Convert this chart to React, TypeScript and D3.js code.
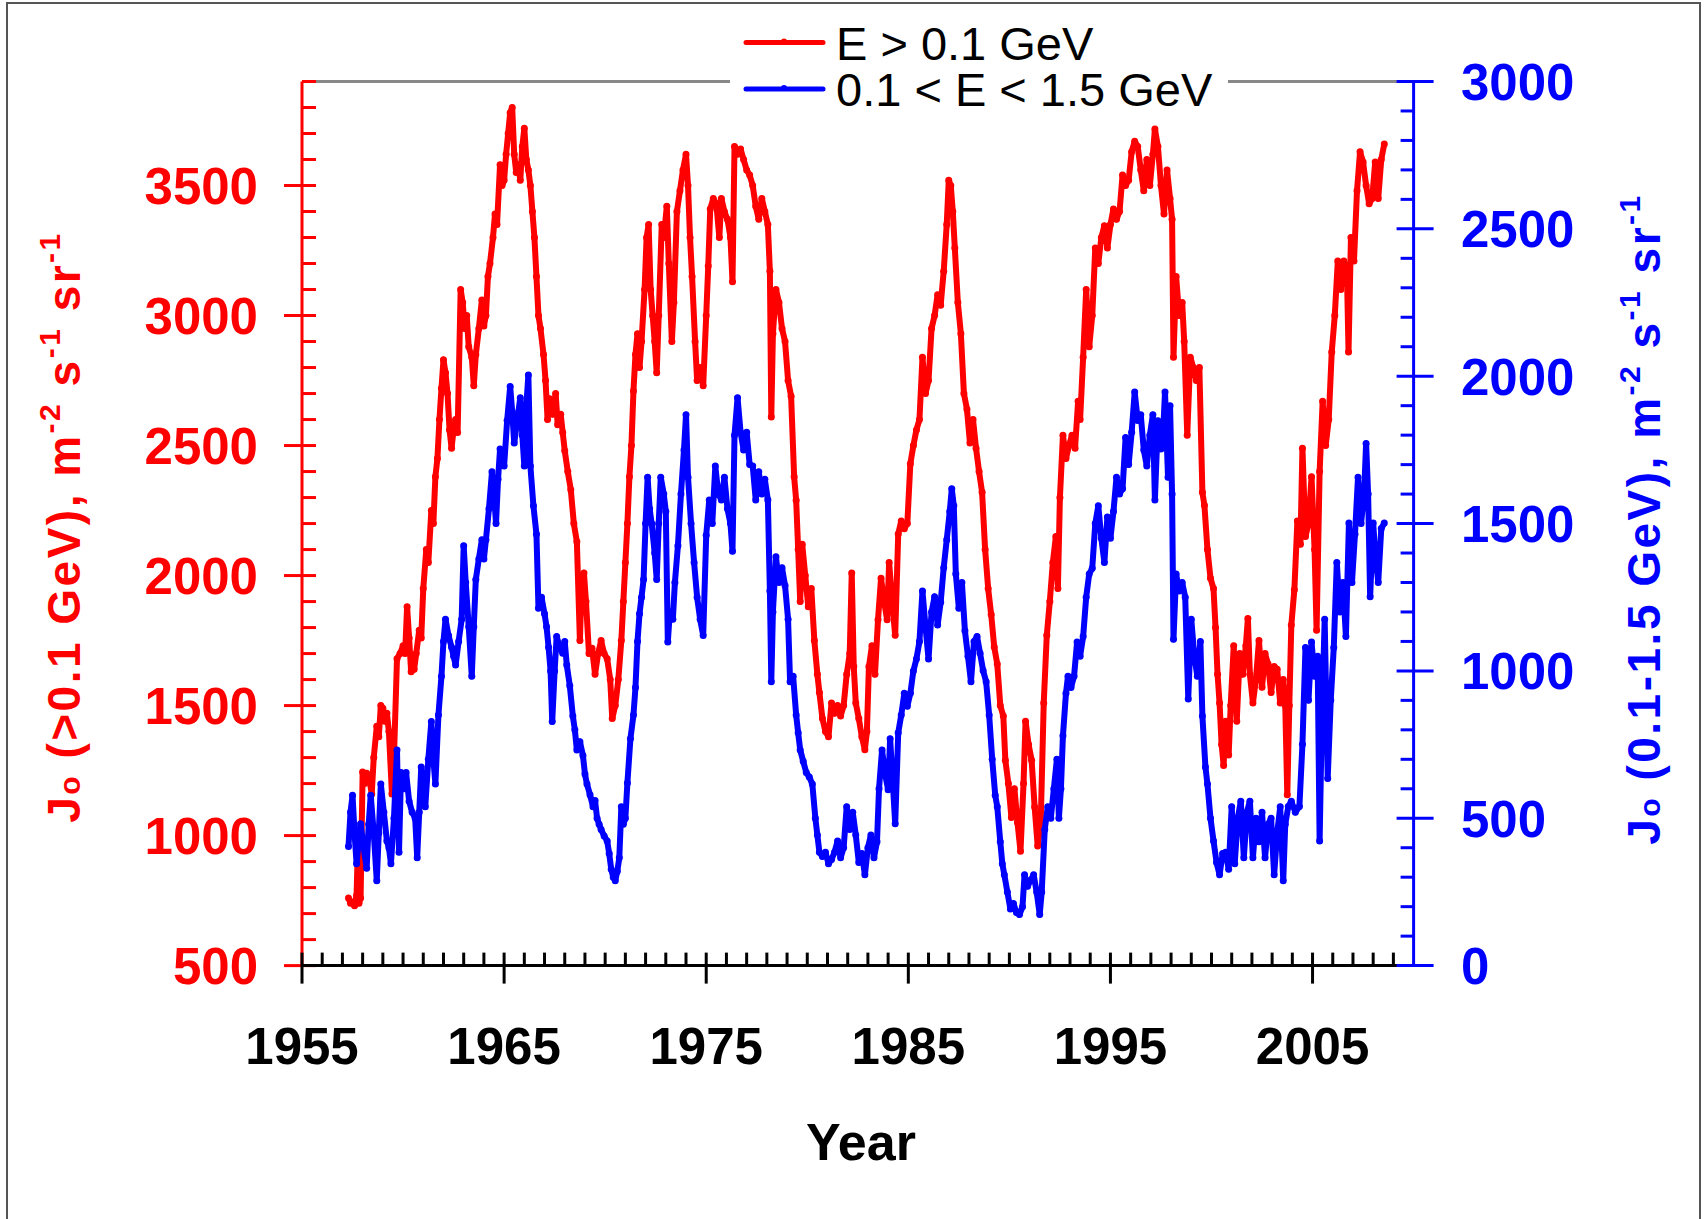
import React from "react";
import * as d3 from "d3";

// E > 0.1 GeV (left axis), [year, flux]
const highEnergy: [number, number][] = [
  [1957.3, 760], [1957.4, 740], [1957.5, 745], [1957.6, 730], [1957.7, 770], [1957.78, 1000], [1957.82, 740], [1957.9, 760],
  [1958.0, 1245], [1958.1, 1200], [1958.2, 1240], [1958.35, 1210], [1958.45, 1160], [1958.55, 1300], [1958.7, 1420], [1958.8, 1380],
  [1958.9, 1500], [1959.0, 1490], [1959.1, 1440], [1959.2, 1470], [1959.3, 1400], [1959.45, 1160], [1959.55, 1300], [1959.7, 1680],
  [1959.85, 1700], [1960.0, 1730], [1960.1, 1700], [1960.2, 1880], [1960.3, 1760], [1960.4, 1630], [1960.55, 1640], [1960.65, 1700],
  [1960.8, 1790], [1960.9, 1760], [1961.0, 1950], [1961.15, 2100], [1961.25, 2050], [1961.4, 2250], [1961.5, 2200], [1961.6, 2380],
  [1961.7, 2450], [1961.8, 2600], [1961.9, 2720], [1962.0, 2830], [1962.1, 2780], [1962.2, 2700], [1962.3, 2560], [1962.4, 2490],
  [1962.5, 2560], [1962.6, 2600], [1962.7, 2550], [1962.85, 3100], [1962.95, 3050], [1963.05, 2950], [1963.15, 3000], [1963.25, 2880],
  [1963.4, 2840], [1963.5, 2730], [1963.6, 2850], [1963.75, 2950], [1963.9, 3060], [1964.0, 2960], [1964.1, 3000], [1964.2, 3150],
  [1964.3, 3200], [1964.45, 3300], [1964.55, 3390], [1964.65, 3350], [1964.8, 3580], [1964.9, 3500], [1965.0, 3520], [1965.1, 3620],
  [1965.2, 3700], [1965.3, 3780], [1965.4, 3800], [1965.5, 3620], [1965.6, 3550], [1965.7, 3580], [1965.8, 3520], [1965.9, 3650],
  [1966.0, 3720], [1966.1, 3600], [1966.2, 3560], [1966.3, 3500], [1966.4, 3400], [1966.5, 3300], [1966.6, 3150], [1966.7, 3000],
  [1966.8, 2950], [1966.95, 2850], [1967.05, 2750], [1967.15, 2600], [1967.25, 2680], [1967.4, 2620], [1967.55, 2700], [1967.65, 2580],
  [1967.8, 2620], [1967.9, 2550], [1968.0, 2480], [1968.15, 2400], [1968.3, 2330], [1968.45, 2200], [1968.6, 2130], [1968.75, 1750],
  [1968.85, 2000], [1968.95, 2010], [1969.05, 1900], [1969.2, 1700], [1969.35, 1720], [1969.5, 1620], [1969.65, 1700], [1969.8, 1750],
  [1969.95, 1700], [1970.1, 1680], [1970.25, 1600], [1970.35, 1450], [1970.5, 1500], [1970.65, 1600], [1970.8, 1750], [1970.9, 1900],
  [1971.0, 2050], [1971.1, 2200], [1971.2, 2380], [1971.3, 2500], [1971.4, 2710], [1971.5, 2850], [1971.6, 2930], [1971.7, 2800],
  [1971.8, 2900], [1971.95, 3100], [1972.05, 3300], [1972.15, 3350], [1972.25, 3100], [1972.35, 3000], [1972.45, 2900], [1972.55, 2780],
  [1972.65, 3000], [1972.8, 3350], [1972.9, 3300], [1973.05, 3420], [1973.15, 3200], [1973.3, 2900], [1973.4, 3050], [1973.55, 3400],
  [1973.7, 3480], [1973.85, 3560], [1974.0, 3620], [1974.1, 3500], [1974.2, 3300], [1974.3, 3150], [1974.45, 2900], [1974.55, 2750],
  [1974.7, 2800], [1974.85, 2730], [1975.0, 3000], [1975.1, 3190], [1975.2, 3410], [1975.35, 3450], [1975.5, 3430], [1975.65, 3300],
  [1975.75, 3450], [1975.9, 3400], [1976.05, 3370], [1976.2, 3300], [1976.3, 3130], [1976.4, 3650], [1976.55, 3620], [1976.7, 3640],
  [1976.85, 3600], [1977.0, 3560], [1977.15, 3540], [1977.3, 3500], [1977.45, 3420], [1977.6, 3370], [1977.75, 3450], [1977.9, 3400],
  [1978.05, 3350], [1978.15, 3170], [1978.22, 2610], [1978.3, 2930], [1978.45, 3100], [1978.6, 3050], [1978.75, 2950], [1978.9, 2900],
  [1979.05, 2750], [1979.2, 2690], [1979.35, 2380], [1979.45, 2290], [1979.55, 2100], [1979.65, 1900], [1979.75, 2120], [1979.9, 2000],
  [1980.05, 1880], [1980.2, 1950], [1980.35, 1750], [1980.5, 1620], [1980.6, 1550], [1980.75, 1450], [1980.9, 1400], [1981.05, 1380],
  [1981.2, 1510], [1981.35, 1470], [1981.5, 1500], [1981.65, 1460], [1981.8, 1500], [1981.95, 1620], [1982.1, 1700], [1982.2, 2010],
  [1982.3, 1650], [1982.4, 1510], [1982.55, 1450], [1982.7, 1380], [1982.85, 1330], [1982.95, 1400], [1983.05, 1650], [1983.2, 1730],
  [1983.35, 1620], [1983.5, 1830], [1983.65, 1990], [1983.8, 1900], [1983.95, 1830], [1984.05, 2050], [1984.2, 1900], [1984.35, 1770],
  [1984.5, 2160], [1984.65, 2210], [1984.8, 2180], [1984.95, 2200], [1985.1, 2430], [1985.25, 2500], [1985.4, 2560], [1985.55, 2600],
  [1985.7, 2840], [1985.85, 2700], [1986.0, 2750], [1986.15, 2950], [1986.3, 3000], [1986.45, 3080], [1986.6, 3040], [1986.75, 3170],
  [1986.9, 3350], [1987.0, 3520], [1987.1, 3500], [1987.2, 3400], [1987.3, 3260], [1987.45, 3050], [1987.6, 2930], [1987.75, 2700],
  [1987.9, 2640], [1988.05, 2510], [1988.2, 2600], [1988.35, 2490], [1988.5, 2400], [1988.65, 2320], [1988.8, 2100], [1988.95, 1950],
  [1989.1, 1850], [1989.25, 1725], [1989.4, 1660], [1989.55, 1500], [1989.7, 1460], [1989.8, 1290], [1989.95, 1200], [1990.1, 1070],
  [1990.25, 1180], [1990.4, 1050], [1990.55, 940], [1990.7, 1200], [1990.8, 1440], [1990.95, 1350], [1991.1, 1290], [1991.25, 1110],
  [1991.4, 960], [1991.55, 1050], [1991.7, 1510], [1991.85, 1770], [1992.0, 1900], [1992.15, 2050], [1992.3, 2150], [1992.4, 1950],
  [1992.5, 2300], [1992.65, 2540], [1992.8, 2450], [1992.95, 2500], [1993.1, 2540], [1993.25, 2490], [1993.4, 2670], [1993.5, 2600],
  [1993.65, 2840], [1993.8, 3100], [1993.95, 2880], [1994.1, 3000], [1994.25, 3260], [1994.4, 3200], [1994.55, 3300], [1994.7, 3345],
  [1994.85, 3260], [1995.0, 3350], [1995.15, 3410], [1995.3, 3370], [1995.45, 3400], [1995.6, 3540], [1995.75, 3500], [1995.9, 3520],
  [1996.05, 3630], [1996.2, 3670], [1996.35, 3650], [1996.5, 3560], [1996.65, 3480], [1996.8, 3600], [1996.95, 3500], [1997.1, 3620],
  [1997.2, 3717], [1997.35, 3650], [1997.5, 3500], [1997.65, 3390], [1997.8, 3560], [1997.95, 3450], [1998.05, 3370], [1998.12, 2840],
  [1998.25, 3150], [1998.4, 3000], [1998.55, 3050], [1998.65, 2900], [1998.8, 2540], [1998.95, 2840], [1999.1, 2800], [1999.25, 2750],
  [1999.4, 2800], [1999.55, 2320], [1999.65, 2270], [1999.8, 2100], [1999.95, 1990], [2000.1, 1950], [2000.2, 1800], [2000.3, 1620],
  [2000.4, 1510], [2000.5, 1350], [2000.6, 1270], [2000.7, 1440], [2000.85, 1310], [2000.95, 1500], [2001.1, 1730], [2001.25, 1440],
  [2001.4, 1700], [2001.55, 1620], [2001.7, 1730], [2001.8, 1835], [2001.9, 1620], [2002.05, 1510], [2002.2, 1600], [2002.35, 1750],
  [2002.5, 1570], [2002.65, 1700], [2002.8, 1660], [2002.95, 1550], [2003.1, 1650], [2003.25, 1640], [2003.4, 1510], [2003.55, 1600],
  [2003.65, 1500], [2003.75, 1157], [2003.85, 1500], [2003.95, 1810], [2004.1, 1945], [2004.25, 2210], [2004.4, 2120], [2004.5, 2490],
  [2004.65, 2150], [2004.8, 2200], [2004.95, 2380], [2005.1, 2100], [2005.2, 1790], [2005.35, 2400], [2005.5, 2670], [2005.65, 2500],
  [2005.8, 2600], [2005.95, 2860], [2006.1, 3000], [2006.25, 3210], [2006.4, 3100], [2006.55, 3210], [2006.7, 3170], [2006.78, 2860],
  [2006.9, 3300], [2007.05, 3210], [2007.2, 3480], [2007.35, 3630], [2007.5, 3590], [2007.65, 3500], [2007.8, 3430], [2007.95, 3450],
  [2008.1, 3590], [2008.25, 3450], [2008.4, 3600], [2008.55, 3660],
];

// 0.1 < E < 1.5 GeV (right axis), [year, flux]
const midEnergy: [number, number][] = [
  [1957.3, 404], [1957.4, 520], [1957.5, 578], [1957.6, 450], [1957.7, 346], [1957.8, 420], [1957.9, 481], [1958.05, 400],
  [1958.2, 330], [1958.3, 480], [1958.4, 578], [1958.55, 450], [1958.7, 288], [1958.8, 450], [1958.9, 616], [1959.05, 520],
  [1959.2, 423], [1959.3, 400], [1959.4, 346], [1959.55, 500], [1959.7, 732], [1959.8, 385], [1959.9, 655], [1960.05, 600],
  [1960.15, 655], [1960.3, 558], [1960.45, 520], [1960.6, 500], [1960.7, 366], [1960.8, 520], [1960.9, 674], [1961.0, 600],
  [1961.1, 539], [1961.25, 700], [1961.4, 828], [1961.5, 700], [1961.6, 616], [1961.75, 850], [1961.9, 982], [1962.0, 1100],
  [1962.1, 1175], [1962.25, 1120], [1962.4, 1080], [1962.5, 1050], [1962.6, 1020], [1962.75, 1100], [1962.9, 1175], [1963.0, 1425],
  [1963.1, 1300], [1963.25, 1150], [1963.4, 982], [1963.5, 1150], [1963.6, 1310], [1963.75, 1380], [1963.9, 1445], [1964.0, 1380],
  [1964.1, 1445], [1964.25, 1550], [1964.4, 1676], [1964.5, 1600], [1964.6, 1500], [1964.7, 1650], [1964.8, 1753], [1964.9, 1700],
  [1965.0, 1695], [1965.15, 1850], [1965.3, 1965], [1965.4, 1880], [1965.5, 1773], [1965.65, 1850], [1965.8, 1927], [1965.9, 1800],
  [1966.0, 1695], [1966.1, 1900], [1966.2, 2004], [1966.3, 1695], [1966.45, 1560], [1966.6, 1464], [1966.7, 1213], [1966.85, 1250],
  [1967.0, 1194], [1967.1, 1150], [1967.2, 1080], [1967.3, 1000], [1967.38, 828], [1967.5, 1000], [1967.6, 1117], [1967.75, 1080],
  [1967.9, 1060], [1968.0, 1100], [1968.1, 1020], [1968.25, 950], [1968.4, 847], [1968.5, 800], [1968.6, 732], [1968.75, 760],
  [1968.9, 713], [1969.0, 650], [1969.1, 616], [1969.25, 580], [1969.4, 539], [1969.5, 560], [1969.6, 500], [1969.7, 480],
  [1969.8, 462], [1969.95, 440], [1970.1, 423], [1970.2, 380], [1970.3, 327], [1970.4, 300], [1970.5, 288], [1970.6, 320],
  [1970.7, 366], [1970.8, 539], [1970.9, 480], [1971.0, 500], [1971.1, 620], [1971.25, 770], [1971.4, 850], [1971.5, 944],
  [1971.6, 1100], [1971.7, 1194], [1971.8, 1250], [1971.9, 1310], [1972.0, 1500], [1972.1, 1657], [1972.2, 1550], [1972.3, 1500],
  [1972.45, 1400], [1972.55, 1310], [1972.65, 1500], [1972.75, 1657], [1972.9, 1600], [1973.0, 1541], [1973.1, 1098], [1973.2, 1200],
  [1973.35, 1175], [1973.45, 1300], [1973.6, 1425], [1973.75, 1600], [1973.9, 1750], [1974.0, 1869], [1974.1, 1657], [1974.25, 1500],
  [1974.4, 1368], [1974.55, 1250], [1974.7, 1175], [1974.85, 1120], [1975.0, 1460], [1975.15, 1580], [1975.3, 1500], [1975.45, 1695],
  [1975.6, 1600], [1975.75, 1580], [1975.9, 1657], [1976.05, 1550], [1976.2, 1500], [1976.3, 1406], [1976.4, 1800], [1976.55, 1927],
  [1976.7, 1810], [1976.85, 1750], [1977.0, 1810], [1977.15, 1700], [1977.3, 1695], [1977.45, 1580], [1977.6, 1676], [1977.75, 1600],
  [1977.9, 1650], [1978.05, 1580], [1978.15, 1271], [1978.22, 963], [1978.3, 1200], [1978.45, 1387], [1978.6, 1300], [1978.75, 1350],
  [1978.9, 1290], [1979.05, 1175], [1979.15, 963], [1979.3, 982], [1979.45, 850], [1979.55, 790], [1979.65, 732], [1979.8, 693],
  [1979.95, 655], [1980.1, 640], [1980.25, 616], [1980.4, 500], [1980.5, 443], [1980.6, 385], [1980.75, 370], [1980.9, 385],
  [1981.05, 346], [1981.2, 360], [1981.35, 385], [1981.5, 423], [1981.65, 366], [1981.8, 400], [1981.95, 539], [1982.1, 462],
  [1982.25, 520], [1982.4, 443], [1982.55, 350], [1982.7, 380], [1982.85, 308], [1983.0, 400], [1983.15, 443], [1983.3, 366],
  [1983.45, 420], [1983.55, 600], [1983.7, 732], [1983.85, 650], [1984.0, 597], [1984.1, 770], [1984.25, 600], [1984.35, 481],
  [1984.5, 790], [1984.65, 850], [1984.8, 924], [1984.95, 880], [1985.1, 924], [1985.25, 1000], [1985.4, 1040], [1985.55, 1100],
  [1985.7, 1271], [1985.85, 1150], [1986.0, 1040], [1986.15, 1200], [1986.3, 1252], [1986.45, 1156], [1986.6, 1233], [1986.75, 1350],
  [1986.9, 1445], [1987.05, 1541], [1987.15, 1618], [1987.25, 1560], [1987.35, 1329], [1987.5, 1213], [1987.65, 1300], [1987.8, 1136],
  [1987.95, 1050], [1988.1, 963], [1988.25, 1100], [1988.4, 1117], [1988.55, 1060], [1988.7, 1001], [1988.85, 963], [1989.0, 850],
  [1989.15, 700], [1989.3, 578], [1989.4, 539], [1989.55, 420], [1989.65, 346], [1989.75, 308], [1989.9, 250], [1990.05, 192],
  [1990.2, 211], [1990.35, 180], [1990.5, 173], [1990.65, 200], [1990.75, 308], [1990.9, 269], [1991.05, 290], [1991.2, 308],
  [1991.35, 250], [1991.5, 173], [1991.6, 250], [1991.75, 462], [1991.9, 539], [1992.05, 500], [1992.2, 600], [1992.35, 700],
  [1992.45, 500], [1992.55, 600], [1992.65, 780], [1992.8, 924], [1992.9, 982], [1993.05, 944], [1993.2, 982], [1993.35, 1098],
  [1993.5, 1050], [1993.65, 1117], [1993.8, 1250], [1993.95, 1329], [1994.1, 1348], [1994.25, 1500], [1994.4, 1560], [1994.55, 1450],
  [1994.7, 1368], [1994.85, 1522], [1995.0, 1450], [1995.15, 1541], [1995.3, 1657], [1995.45, 1600], [1995.6, 1618], [1995.75, 1792],
  [1995.9, 1700], [1996.05, 1810], [1996.2, 1946], [1996.35, 1850], [1996.5, 1869], [1996.65, 1750], [1996.8, 1695], [1996.95, 1800],
  [1997.1, 1869], [1997.2, 1580], [1997.35, 1849], [1997.5, 1753], [1997.6, 1800], [1997.7, 1946], [1997.85, 1657], [1997.95, 1900],
  [1998.05, 1600], [1998.12, 1107], [1998.25, 1329], [1998.4, 1271], [1998.55, 1300], [1998.7, 1250], [1998.85, 905], [1999.0, 1175],
  [1999.15, 1050], [1999.3, 982], [1999.45, 1100], [1999.55, 847], [1999.7, 674], [1999.8, 616], [1999.95, 500], [2000.1, 423],
  [2000.25, 350], [2000.4, 308], [2000.55, 380], [2000.7, 385], [2000.85, 327], [2001.0, 539], [2001.15, 346], [2001.3, 500],
  [2001.45, 558], [2001.6, 366], [2001.75, 520], [2001.9, 558], [2002.05, 366], [2002.2, 500], [2002.35, 420], [2002.5, 520],
  [2002.65, 366], [2002.8, 480], [2002.95, 500], [2003.1, 308], [2003.25, 450], [2003.4, 539], [2003.55, 288], [2003.65, 480],
  [2003.8, 540], [2003.95, 558], [2004.15, 520], [2004.35, 540], [2004.5, 751], [2004.65, 1079], [2004.8, 900], [2004.95, 1098],
  [2005.1, 982], [2005.25, 1050], [2005.35, 423], [2005.45, 800], [2005.6, 1175], [2005.75, 635], [2005.9, 900], [2006.05, 1079],
  [2006.2, 1368], [2006.35, 1200], [2006.5, 1300], [2006.65, 1117], [2006.8, 1502], [2006.95, 1300], [2007.1, 1464], [2007.25, 1657],
  [2007.4, 1500], [2007.55, 1600], [2007.65, 1772], [2007.75, 1600], [2007.85, 1252], [2008.0, 1502], [2008.1, 1400], [2008.25, 1300],
  [2008.4, 1483], [2008.55, 1502],
];

const yearTicks = [1955, 1965, 1975, 1985, 1995, 2005];
const leftTicks = [500, 1000, 1500, 2000, 2500, 3000, 3500];
const rightTicks = [0, 500, 1000, 1500, 2000, 2500, 3000];
const legendLabels = ["E > 0.1 GeV", "0.1 < E < 1.5 GeV"];

const RED = "#ff0000";
const BLUE = "#0000ff";
const FONT = "'Liberation Sans', Arial, sans-serif";

export default function App() {
  const W = 1705;
  const H = 1219;
  const left = 302;
  const right = 1413.6;
  const top = 81.5;
  const bottom = 965.6;

  const x = d3.scaleLinear().domain([1955, 2010]).range([left, right]);
  const yL = d3.scaleLinear().domain([500, 3900]).range([bottom, top]);
  const yR = d3.scaleLinear().domain([0, 3000]).range([bottom, top]);

  const redLine = d3.line<[number, number]>().x((d) => x(d[0])).y((d) => yL(d[1]));
  const blueLine = d3.line<[number, number]>().x((d) => x(d[0])).y((d) => yR(d[1]));

  const leftMinor = d3.range(500, 3901, 100).filter((v) => v % 500 !== 0);
  const rightMinor = d3.range(0, 3001, 100).filter((v) => v % 500 !== 0);
  const yearMinor = d3.range(1956, 2010).filter((v) => (v - 1955) % 10 !== 0);

  const sup = 30;

  return (
    <svg width={W} height={H} style={{ position: "absolute", left: 0, top: 0, background: "#fff" }} fontFamily={FONT}>
      <rect x={7} y={3} width={1693} height={1240} fill="#fff" stroke="#555" strokeWidth={2} />

      {/* top frame line */}
      <line x1={left} x2={right} y1={top} y2={top} stroke="#888" strokeWidth={3} />

      {/* data */}
      <path d={redLine(highEnergy) || ""} fill="none" stroke={RED} strokeWidth={6} strokeLinejoin="round" />
      {highEnergy.map((d, i) => (
        <circle key={"r" + i} cx={x(d[0])} cy={yL(d[1])} r={3.5} fill={RED} />
      ))}
      <path d={blueLine(midEnergy) || ""} fill="none" stroke={BLUE} strokeWidth={6} strokeLinejoin="round" />
      {midEnergy.map((d, i) => (
        <circle key={"b" + i} cx={x(d[0])} cy={yR(d[1])} r={3.5} fill={BLUE} />
      ))}

      {/* left axis */}
      <g stroke={RED} strokeWidth={3}>
        <line x1={left} x2={left} y1={top} y2={bottom} />
        {leftMinor.map((v) => (
          <line key={v} x1={left} x2={left + 14} y1={yL(v)} y2={yL(v)} />
        ))}
        {leftTicks.map((v) => (
          <line key={v} x1={left - 18} x2={left + 14} y1={yL(v)} y2={yL(v)} />
        ))}
      </g>
      <g fill={RED} fontSize={51} fontWeight="bold" textAnchor="end">
        {leftTicks.map((v) => (
          <text key={v} x={258} y={yL(v)} dy="0.36em">{v}</text>
        ))}
      </g>

      {/* bottom axis */}
      <g stroke="#000" strokeWidth={3}>
        <line x1={left} x2={right} y1={bottom} y2={bottom} />
        {yearMinor.map((v) => (
          <line key={v} x1={x(v)} x2={x(v)} y1={bottom - 13} y2={bottom} />
        ))}
        {yearTicks.map((v) => (
          <line key={v} x1={x(v)} x2={x(v)} y1={bottom - 13} y2={bottom + 18} />
        ))}
      </g>
      <g fill="#000" fontSize={51} fontWeight="bold" textAnchor="middle">
        {yearTicks.map((v) => (
          <text key={v} x={x(v)} y={1064}>{v}</text>
        ))}
      </g>
      <text x={861} y={1160} fontSize={52} fontWeight="bold" textAnchor="middle">Year</text>

      {/* right axis */}
      <g stroke={BLUE} strokeWidth={3}>
        <line x1={right} x2={right} y1={top} y2={bottom} />
        {rightMinor.map((v) => (
          <line key={v} x1={right - 13} x2={right} y1={yR(v)} y2={yR(v)} />
        ))}
        {rightTicks.map((v) => (
          <line key={v} x1={right - 17} x2={right + 20} y1={yR(v)} y2={yR(v)} />
        ))}
      </g>
      <g fill={BLUE} fontSize={51} fontWeight="bold" textAnchor="start">
        {rightTicks.map((v) => (
          <text key={v} x={1461} y={yR(v)} dy="0.36em">{v}</text>
        ))}
      </g>

      {/* axis titles */}
      <text transform="translate(80,527) rotate(-90)" fill={RED} fontSize={46} fontWeight="bold" textAnchor="middle" letterSpacing={2.5}>
        J<tspan fontSize={30}>o</tspan> (&gt;0.1 GeV), m<tspan dy={-20} fontSize={sup}>-2</tspan>
        <tspan dy={20}> s</tspan><tspan dy={-20} fontSize={sup}>-1</tspan>
        <tspan dy={20}> sr</tspan><tspan dy={-20} fontSize={sup}>-1</tspan>
      </text>
      <text transform="translate(1660,519) rotate(-90)" fill={BLUE} fontSize={46} fontWeight="bold" textAnchor="middle" letterSpacing={2.5}>
        J<tspan fontSize={30}>o</tspan> (0.1-1.5 GeV), m<tspan dy={-20} fontSize={sup}>-2</tspan>
        <tspan dy={20}> s</tspan><tspan dy={-20} fontSize={sup}>-1</tspan>
        <tspan dy={20}> sr</tspan><tspan dy={-20} fontSize={sup}>-1</tspan>
      </text>

      {/* legend */}
      <rect x={730} y={10} width={498} height={106} fill="#fff" />
      {legendLabels.map((label, i) => {
        const ly = 42.5 + i * 46.5;
        const c = i === 0 ? RED : BLUE;
        return (
          <g key={label}>
            <line x1={746} x2={823} y1={ly} y2={ly} stroke={c} strokeWidth={5} strokeLinecap="round" />
            <circle cx={784} cy={ly - 1} r={3} fill={c} />
            <text x={836} y={ly + 17} fontSize={47} fill="#000">{label}</text>
          </g>
        );
      })}
    </svg>
  );
}
